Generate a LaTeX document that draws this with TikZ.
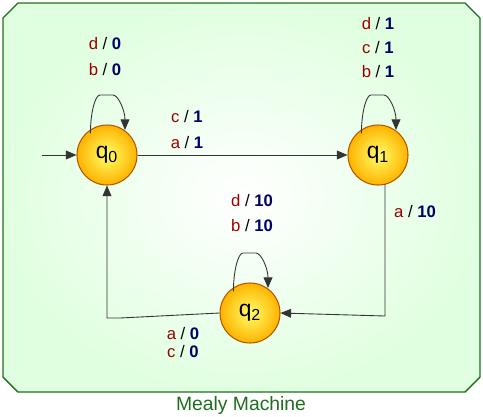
\documentclass[tikz,border=0pt]{standalone}
\usepackage{fontspec}
\setmainfont{Liberation Sans}
\usetikzlibrary{arrows.meta}
\definecolor{lr}{HTML}{990000}
\definecolor{lb}{HTML}{000066}
\definecolor{gb}{HTML}{1E6E1E}
\begin{document}
\begin{tikzpicture}[x=0.02cm,y=-0.02cm,
  st/.style={circle,draw=orange!70!black,line width=0.6pt,inner color=yellow!60!white,outer color=orange!60!yellow,minimum size=60*0.02cm,font=\fontsize{13}{13}\selectfont},
  lb/.style={font=\fontsize{9.5}{10}\selectfont,inner sep=1pt},
  ed/.style={draw=black!80,line width=0.5pt,-{Triangle[length=6pt,width=5pt]}}]
\useasboundingbox (0,0) rectangle (483,416);
\draw[gb,line width=0.8pt,inner color=white,outer color=green!12!white]
 (18,3)--(465,3)--(480,18)--(480,377)--(465,392)--(18,392)--(3,377)--(3,18)--cycle;
\node[gb,font=\fontsize{11}{11}\selectfont] (t) at (241,405) {Mealy Machine};
\node[st] (q0) at (107,155) {q\textsubscript{0}};
\node[st] (q1) at (378,155) {q\textsubscript{1}};
\node[st] (q2) at (250,313) {q\textsubscript{2}};
\coordinate (s) at (42,155);
\draw[ed] (s) -- (q0);
\draw[ed] (q0) -- (q1);
\coordinate (a1) at (385,184);
\coordinate (c1) at (385,316);
\draw[ed] (a1) -- (c1) -- (q2.east);
\coordinate (c2) at (120,318);
\coordinate (c3) at (107,318);
\draw[ed] (q2.west) -- (c2) -- (c3) -- (q0.south);
\draw[ed] (q0.north west) ++(5,0) .. controls +(0,-20) and +(-5,0) .. (100,95) -- (113,95) .. controls +(5,0) and +(0,-20) .. (125,130);
\draw[ed] (q1.north west) ++(5,0) .. controls +(0,-20) and +(-5,0) .. (371,95) -- (384,95) .. controls +(5,0) and +(0,-20) .. (396,130);
\draw[ed] (q2.north west) ++(5,0) .. controls +(0,-20) and +(-5,0) .. (243,253) -- (256,253) .. controls +(5,0) and +(0,-20) .. (268,288);
\newcommand{\lab}[4]{\node[lb] (#4) at (#1) {\textcolor{lr}{#2} / \textcolor{lb}{\textbf{#3}}};}
\lab{105,44}{d}{0}{l1}\lab{105,70}{b}{0}{l2}
\lab{187,117}{c}{1}{l3}\lab{187,143}{a}{1}{l4}
\lab{378,24}{d}{1}{l5}\lab{378,48}{c}{1}{l6}\lab{378,72}{b}{1}{l7}
\lab{415,212}{a}{10}{l8}
\lab{252,201}{d}{10}{l9}\lab{252,226}{b}{10}{l10}
\lab{183,334}{a}{0}{l11}\lab{183,352}{c}{0}{l12}
\end{tikzpicture}
\end{document}
